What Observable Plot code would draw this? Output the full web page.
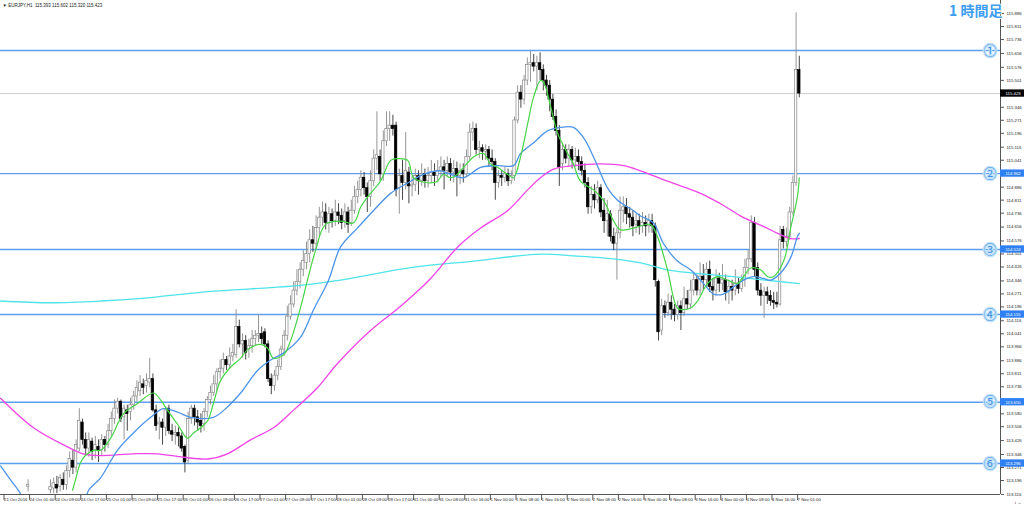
<!DOCTYPE html>
<html><head><meta charset="utf-8">
<script src="https://cdn.jsdelivr.net/npm/d3@7"></script>
<script src="https://cdn.jsdelivr.net/npm/@observablehq/plot@0.6"></script>
<style>html,body{margin:0;padding:0;background:#fff;overflow:hidden}</style>
</head><body><div id="chart"></div>
<script>
const symbolTitle = "▼ EURJPY,H1  115.393 115.602 115.320 115.423";
const timeframeLabel = "1 時間足";

const xTickBars = [0,8,16,24,32,40,48,56,64,72,80,88,96,104,112,120,128,136,144,152,160,168,176,184,192,200,208,216,224,232,240,248];
const xTickLabels = ["21 Oct 2016","24 Oct 01:00","24 Oct 09:00","24 Oct 17:00","25 Oct 01:00","25 Oct 09:00","25 Oct 17:00","26 Oct 01:00","26 Oct 09:00","26 Oct 17:00","27 Oct 01:00","27 Oct 09:00","27 Oct 17:00","28 Oct 01:00","28 Oct 09:00","28 Oct 17:00","31 Oct 00:00","31 Oct 08:00","31 Oct 16:00","1 Nov 00:00","1 Nov 08:00","1 Nov 16:00","2 Nov 00:00","2 Nov 08:00","2 Nov 16:00","3 Nov 00:00","3 Nov 08:00","3 Nov 16:00","4 Nov 00:00","4 Nov 08:00","4 Nov 16:00","7 Nov 01:00"];
const yTickValues = [115.886,115.811,115.736,115.656,115.576,115.501,115.346,115.271,115.196,115.116,115.041,114.886,114.811,114.736,114.656,114.576,114.501,114.426,114.346,114.271,114.196,114.116,114.041,113.966,113.886,113.811,113.736,113.580,113.506,113.426,113.346,113.271,113.196,113.116];

const N = null;
const opens = [N,N,N,N,N,N,N,N,113.16,N,N,N,N,N,N,
113.14,113.15,113.17,113.16,113.20,113.17,113.25,113.31,113.27,113.38,113.53,113.43,113.38,113.42,113.37,113.39,113.37,113.43,113.40,113.48,113.55,113.61,113.65,113.56,113.60,113.59,113.63,113.68,113.71,113.75,113.74,113.76,113.78,113.60,113.52,113.53,113.50,113.61,113.48,113.46,113.47,113.45,113.39,113.31,113.55,113.61,113.56,113.54,113.52,113.59,113.66,113.70,113.75,113.82,113.84,113.89,113.86,113.91,113.92,114.08,113.98,114.00,113.95,113.97,114.01,114.03,114.04,114.05,113.98,113.78,113.74,113.80,113.85,113.95,114.03,114.14,114.21,114.29,114.34,114.41,114.45,114.50,114.58,114.56,114.65,114.71,114.74,114.68,114.73,114.69,114.74,114.72,114.69,114.74,114.68,114.75,114.83,114.87,114.94,114.88,114.83,114.92,115.05,115.06,114.96,115.15,115.22,115.24,115.24,114.88,114.95,114.91,114.97,114.89,114.90,114.95,114.92,114.96,114.92,114.95,114.97,114.95,114.98,115.00,114.98,115.02,114.97,114.99,114.95,114.98,114.96,115.06,115.20,115.22,115.10,115.11,115.09,115.10,115.05,115.03,114.91,114.95,114.94,114.96,114.92,114.95,115.27,115.43,115.39,115.50,115.59,115.60,115.58,115.60,115.56,115.50,115.47,115.39,115.29,115.21,115.02,115.10,115.05,115.10,115.04,115.06,115.03,114.98,114.91,114.77,114.84,114.81,114.88,114.75,114.69,114.73,114.60,114.56,114.62,114.75,114.77,114.73,114.71,114.67,114.69,114.66,114.68,114.66,114.69,114.66,114.34,114.06,114.20,114.16,114.22,114.18,114.15,114.20,114.16,114.24,114.21,114.29,114.35,114.29,114.37,114.35,114.41,114.31,114.29,114.36,114.33,114.35,114.28,114.31,114.29,114.33,114.30,114.35,114.42,114.47,114.68,114.42,114.29,114.26,114.28,114.26,114.23,114.22,114.21,114.64,114.57,114.60,114.74,114.91,115.56];
const highs = [N,N,N,N,N,N,N,N,113.20,N,N,N,N,N,N,
113.20,113.21,113.22,113.23,113.24,113.28,113.36,113.37,113.43,113.61,113.55,113.47,113.47,113.44,113.45,113.43,113.46,113.45,113.52,113.59,113.66,113.67,113.66,113.63,113.63,113.67,113.71,113.77,113.80,113.78,113.81,113.90,113.81,113.63,113.56,113.55,113.62,113.63,113.52,113.51,113.50,113.47,113.40,113.59,113.63,113.63,113.60,113.58,113.61,113.68,113.74,113.80,113.84,113.89,113.93,113.91,113.96,113.98,114.18,114.12,114.04,114.03,114.01,114.06,114.06,114.15,114.08,114.07,114.00,113.81,113.83,113.89,113.97,114.06,114.20,114.26,114.34,114.41,114.45,114.52,114.57,114.64,114.66,114.72,114.77,114.80,114.79,114.77,114.76,114.81,114.79,114.76,114.79,114.77,114.81,114.89,114.92,114.98,114.97,114.91,114.98,115.10,115.32,115.10,115.21,115.32,115.32,115.30,115.26,114.99,115.04,115.20,115.00,114.95,114.99,114.98,115.02,114.99,115.00,115.04,115.02,115.04,115.06,115.04,115.06,115.05,115.04,115.03,115.02,115.02,115.10,115.25,115.26,115.25,115.15,115.13,115.13,115.12,115.10,115.05,114.98,114.98,115.00,114.99,114.98,115.29,115.47,115.47,115.53,115.63,115.67,115.65,115.64,115.66,115.59,115.53,115.50,115.42,115.33,115.24,115.14,115.13,115.13,115.12,115.11,115.10,115.06,115.02,114.94,114.89,114.90,114.92,114.90,114.82,114.81,114.75,114.65,114.65,114.83,114.83,114.82,114.77,114.75,114.73,114.73,114.74,114.72,114.73,114.73,114.68,114.35,114.24,114.23,114.27,114.26,114.21,114.23,114.23,114.31,114.29,114.35,114.39,114.38,114.45,114.44,114.45,114.46,114.36,114.41,114.39,114.44,114.38,114.35,114.35,114.41,114.36,114.38,114.47,114.52,114.72,114.71,114.45,114.33,114.31,114.31,114.29,114.28,114.28,114.66,114.66,114.65,114.77,114.95,115.89,115.64];
const lows = [N,N,N,N,N,N,N,N,113.13,N,N,N,N,N,N,
113.12,113.12,113.12,113.13,113.14,113.14,113.21,113.23,113.24,113.36,113.40,113.34,113.33,113.31,113.32,113.30,113.34,113.36,113.38,113.45,113.52,113.58,113.53,113.43,113.48,113.54,113.60,113.65,113.68,113.69,113.70,113.73,113.59,113.48,113.43,113.40,113.45,113.46,113.42,113.40,113.39,113.36,113.24,113.29,113.52,113.51,113.48,113.47,113.48,113.56,113.63,113.68,113.71,113.78,113.81,113.83,113.84,113.88,113.90,113.96,113.90,113.89,113.90,113.93,113.97,113.99,113.98,113.96,113.76,113.69,113.71,113.77,113.83,113.91,114.00,114.12,114.19,114.26,114.30,114.37,114.41,114.45,114.51,114.52,114.60,114.66,114.64,114.62,114.65,114.66,114.67,114.64,114.65,114.62,114.66,114.73,114.79,114.83,114.84,114.74,114.77,114.89,114.98,114.92,114.92,115.12,115.15,115.18,114.83,114.73,114.81,114.87,114.79,114.83,114.86,114.84,114.89,114.88,114.88,114.91,114.89,114.91,114.94,114.87,114.94,114.92,114.91,114.83,114.90,114.91,114.94,115.04,115.15,115.07,115.05,115.04,115.04,115.00,114.98,114.81,114.88,114.89,114.91,114.89,114.90,114.92,115.25,115.34,115.36,115.47,115.49,115.55,115.44,115.50,115.44,115.41,115.32,115.27,115.18,114.89,114.98,115.02,115.00,114.99,115.00,114.98,114.95,114.88,114.73,114.73,114.76,114.79,114.71,114.62,114.60,114.57,114.52,114.35,114.59,114.68,114.67,114.65,114.60,114.62,114.61,114.62,114.60,114.62,114.62,114.31,114.00,114.03,114.13,114.14,114.12,114.11,114.12,114.06,114.14,114.18,114.18,114.26,114.26,114.26,114.29,114.31,114.28,114.23,114.26,114.28,114.29,114.23,114.21,114.23,114.26,114.27,114.28,114.31,114.38,114.45,114.37,114.26,114.20,114.13,114.21,114.20,114.18,114.19,114.20,114.53,114.54,114.58,114.72,114.89,115.40];
const closes = [N,N,N,N,N,N,N,N,113.17,N,N,N,N,N,N,
113.16,113.18,113.15,113.21,113.17,113.25,113.32,113.27,113.40,113.54,113.43,113.38,113.43,113.36,113.40,113.37,113.43,113.40,113.48,113.55,113.61,113.65,113.55,113.61,113.58,113.63,113.68,113.73,113.76,113.73,113.77,113.78,113.60,113.51,113.53,113.50,113.60,113.48,113.46,113.47,113.45,113.38,113.30,113.55,113.61,113.56,113.53,113.51,113.59,113.66,113.70,113.75,113.82,113.84,113.89,113.86,113.91,113.93,114.08,113.98,114.00,113.93,113.97,114.01,114.03,114.04,114.01,113.98,113.78,113.74,113.80,113.85,113.95,114.03,114.14,114.21,114.29,114.34,114.41,114.46,114.50,114.58,114.56,114.65,114.71,114.74,114.68,114.73,114.69,114.74,114.72,114.68,114.74,114.67,114.75,114.83,114.87,114.94,114.88,114.83,114.92,115.05,115.07,114.96,115.15,115.22,115.24,115.22,114.87,114.95,114.91,114.98,114.89,114.90,114.95,114.92,114.96,114.92,114.95,114.97,114.95,114.98,115.00,114.98,115.02,114.97,114.99,114.95,114.98,114.96,115.06,115.20,115.22,115.10,115.11,115.09,115.10,115.05,115.03,114.91,114.95,114.94,114.96,114.92,114.95,115.27,115.43,115.39,115.50,115.59,115.60,115.58,115.60,115.56,115.50,115.47,115.39,115.29,115.21,115.00,115.10,115.05,115.10,115.04,115.06,115.03,114.98,114.91,114.77,114.84,114.81,114.88,114.74,114.69,114.73,114.60,114.56,114.62,114.75,114.77,114.73,114.71,114.66,114.69,114.66,114.68,114.66,114.69,114.66,114.35,114.05,114.20,114.16,114.22,114.18,114.15,114.20,114.16,114.24,114.21,114.29,114.35,114.29,114.37,114.35,114.41,114.31,114.29,114.36,114.33,114.35,114.28,114.31,114.29,114.33,114.30,114.35,114.42,114.47,114.68,114.41,114.29,114.26,114.28,114.26,114.23,114.22,114.21,114.58,114.57,114.60,114.74,114.91,115.56,115.425];

// moving averages: [bar, price]
const maFast = [[21.9,113.14],[22.8,113.20],[24.4,113.30],[25.9,113.34],[28.4,113.37],[30.6,113.37],[33.8,113.44],[37.8,113.58],[42.2,113.64],[47.2,113.70],[49.4,113.66],[51.6,113.60],[54.7,113.52],[57.8,113.44],[59.7,113.47],[61.9,113.50],[64.1,113.54],[65.9,113.64],[68.1,113.77],[71.3,113.85],[74.4,113.90],[76.6,113.95],[80.6,113.98],[82.8,113.96],[84.7,113.90],[87.8,113.92],[90,114.00],[93.1,114.19],[95.3,114.35],[97.8,114.52],[100.9,114.67],[105.6,114.69],[109.7,114.68],[111.9,114.77],[114.1,114.83],[118.1,114.92],[121.3,115.04],[123.4,115.05],[126.6,115.04],[128.4,114.94],[130.6,114.92],[133.8,114.91],[135.9,114.92],[137.8,114.96],[140,114.94],[142.2,114.96],[144.1,115.00],[147.2,115.06],[150.3,115.08],[152.5,115.02],[154.7,115.00],[157.8,114.96],[159.7,114.94],[161.9,115.06],[164.1,115.25],[165.9,115.40],[168.1,115.50],[169.1,115.49],[171.3,115.35],[173.4,115.20],[176.6,115.08],[178.4,115.02],[180.6,114.92],[184.7,114.87],[187.8,114.81],[191,114.69],[193.1,114.64],[197.2,114.65],[202.5,114.67],[204.7,114.60],[207.8,114.41],[210.9,114.19],[212.8,114.18],[215,114.19],[217.2,114.23],[220.3,114.33],[223.4,114.37],[226.6,114.35],[229.7,114.33],[231.6,114.37],[233.8,114.42],[236.9,114.41],[239.1,114.37],[240.9,114.37],[244.1,114.46],[246.3,114.65],[248.4,114.83],[249,114.94]];
const maMid = [[-0.6,113.28],[2.5,113.20],[5.6,113.12],[7,113.05],[25,113.05],[26.9,113.14],[30.6,113.21],[35.9,113.37],[40.9,113.47],[46.3,113.56],[50.3,113.61],[54.7,113.59],[58.8,113.56],[65.9,113.56],[70.3,113.62],[74.4,113.70],[79.7,113.83],[83.8,113.89],[87.8,113.93],[93.1,114.02],[97.2,114.18],[101.9,114.35],[105.6,114.54],[110.9,114.65],[115.9,114.75],[121.3,114.85],[126.6,114.91],[131.6,114.96],[136.9,114.98],[140,114.96],[144.1,114.94],[149.4,115.00],[154.7,115.01],[159.7,115.01],[161.9,115.08],[165.9,115.14],[170.3,115.21],[174.4,115.23],[178.4,115.23],[181.6,115.17],[184.7,115.06],[189.1,114.88],[192.2,114.81],[197.2,114.75],[199.4,114.72],[203.4,114.68],[206.6,114.56],[210.9,114.46],[215,114.41],[219.1,114.33],[222.2,114.27],[225.3,114.27],[228.4,114.31],[231.6,114.35],[234.7,114.37],[237.8,114.36],[240,114.35],[243.1,114.39],[246.3,114.48],[248.4,114.60],[249,114.62]];
const maSlow = [[-0.6,113.67],[9.7,113.50],[20.3,113.39],[25.3,113.35],[30.6,113.34],[40.9,113.35],[48.4,113.35],[56.6,113.33],[64.1,113.32],[70.3,113.35],[77.5,113.43],[84.7,113.50],[90.9,113.60],[98.4,113.73],[104.7,113.87],[115,114.06],[124.4,114.20],[133.8,114.36],[142.2,114.54],[149.4,114.65],[157.8,114.75],[164.1,114.87],[168.1,114.94],[172.2,114.99],[178.4,115.01],[186.9,115.02],[194.1,115.01],[199.4,114.98],[207.8,114.92],[218.1,114.85],[224.4,114.79],[231.6,114.71],[237.8,114.66],[242.2,114.62],[246.3,114.59],[249,114.59]];
const maLong = [[-0.6,114.23],[15,114.22],[30.6,114.23],[46.3,114.25],[61.9,114.28],[77.5,114.30],[93.1,114.32],[105.6,114.35],[126.6,114.42],[147.2,114.46],[168.1,114.50],[178.4,114.49],[186.9,114.48],[199.4,114.45],[207.8,114.41],[228.4,114.37],[249,114.33]];

const levelPrices = [115.673, 114.964, 114.527, 114.152, 113.647, 113.294];
const levelMarks = ["①","②","③","④","⑤","⑥"];
const levelBoxText = [null, "114.962", "114.524", "114.155", "113.650", "113.296"];
const currentPrice = 115.425;
const currentPriceText = "115.423";

const xDomain = [-0.625, 311.875];
const yDomain = [113.1155, 115.961];

const bars = opens.map((o, i) => o == null ? null : {i, o, h: highs[i], l: lows[i], c: closes[i], up: closes[i] >= o}).filter(Boolean);
const levels = levelPrices.map((p, k) => ({p, m: levelMarks[k], box: levelBoxText[k]}));
const boxes = levels.filter(d => d.box);
const toRows = a => a.map(([i, p]) => ({i, p}));

const font = "Liberation Sans, Arial, sans-serif";
const chart = Plot.plot({
  width: 1024, height: 506,
  marginTop: 0, marginLeft: 0, marginRight: 24, marginBottom: 12,
  style: {fontFamily: font, fontSize: "4.5px", background: "#fff", color: "#222"},
  x: {domain: xDomain, axis: null},
  y: {domain: yDomain, axis: null},
  marks: [
    Plot.ruleY([currentPrice], {stroke: "#cfcfcf", strokeWidth: 1}),
    Plot.ruleY(levels, {y: "p", stroke: "#5b9ff0", strokeWidth: 1.4}),
    Plot.ruleX(bars, {x: "i", y1: "l", y2: "h", stroke: d => d.up ? "#8a8a8a" : "#333", strokeWidth: 0.9, clip: true}),
    Plot.rect(bars, {x1: d => d.i - 0.38, x2: d => d.i + 0.38, y1: "o", y2: "c", fill: d => d.up ? "#fff" : "#000", stroke: d => d.up ? "#8a8a8a" : "#000", strokeWidth: 0.7, clip: true}),
    Plot.line(toRows(maLong), {x: "i", y: "p", stroke: "#4fe3ea", strokeWidth: 1.3, curve: "catmull-rom", clip: true}),
    Plot.line(toRows(maSlow), {x: "i", y: "p", stroke: "#f044e6", strokeWidth: 1.3, curve: "catmull-rom", clip: true}),
    Plot.line(toRows(maMid), {x: "i", y: "p", stroke: "#4d94e8", strokeWidth: 1.3, curve: "catmull-rom", clip: true}),
    Plot.line(toRows(maFast), {x: "i", y: "p", stroke: "#45d545", strokeWidth: 1.2, curve: "catmull-rom", clip: true}),
    // axis lines
    Plot.ruleX([xDomain[1]], {stroke: "#555", strokeWidth: 1}),
    Plot.ruleY([yDomain[0]], {stroke: "#555", strokeWidth: 1}),
    Plot.axisY({anchor: "right", ticks: yTickValues, tickFormat: d => d.toFixed(3), tickSize: 3, tickPadding: 3, fontSize: 4.3, stroke: "#555"}),
    Plot.axisX({anchor: "bottom", ticks: xTickBars, tickFormat: d => xTickLabels[xTickBars.indexOf(d)], tickSize: 6, tickPadding: -3, textAnchor: "start", dx: 1.5, fontSize: 4.3, stroke: "#555"}),
    // price boxes
    Plot.rect(boxes, {x1: () => xDomain[1], x2: () => xDomain[1] + 7.5, y1: d => d.p - 0.021, y2: d => d.p + 0.021, fill: "#2f80f2"}),
    Plot.text(boxes, {y: "p", text: "box", frameAnchor: "right", textAnchor: "start", dx: 5, fill: "#fff", fontSize: 4.3}),
    Plot.rect([currentPrice], {x1: () => xDomain[1], x2: () => xDomain[1] + 7.5, y1: d => d - 0.021, y2: d => d + 0.021, fill: "#000"}),
    Plot.text([currentPrice], {y: d => d, text: () => currentPriceText, frameAnchor: "right", textAnchor: "start", dx: 5, fill: "#fff", fontSize: 4.3}),
    // circled level numbers
    Plot.text(levels, {y: "p", text: "m", frameAnchor: "right", dx: -4, fill: "#3a90e4", stroke: "#c4e3fb", strokeWidth: 2.5, fontSize: 13, fontFamily: "Noto Sans CJK JP"}),
    // titles
    Plot.text([symbolTitle], {frameAnchor: "top-left", textAnchor: "start", lineAnchor: "top", dx: 2, dy: 3, fontSize: 4.5, fill: "#222"}),
    Plot.text([timeframeLabel], {frameAnchor: "top-right", textAnchor: "end", lineAnchor: "top", dx: 2, dy: 6, fontSize: 14, fontWeight: "bold", fill: "#3d9df0", stroke: "#fff", strokeWidth: 1.5, fontFamily: "Noto Sans CJK JP"})
  ]
});
document.getElementById("chart").append(chart);
</script></body></html>
